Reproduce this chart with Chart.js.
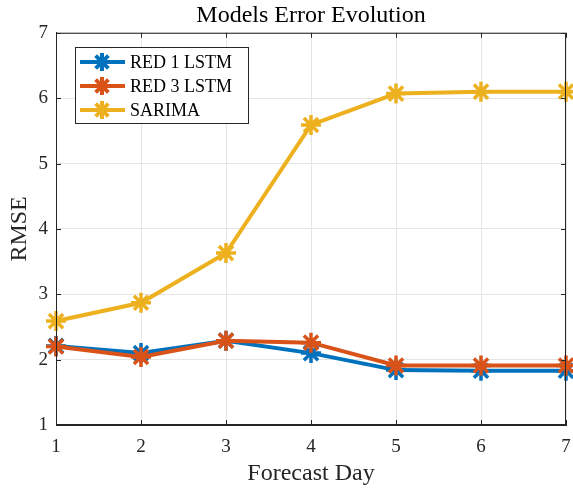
<!DOCTYPE html>
<html>
<head>
<meta charset="utf-8">
<script src="https://cdn.jsdelivr.net/npm/chart.js@4/dist/chart.umd.min.js"></script>
<style>
  html, body { margin: 0; padding: 0; background: #fff; }
  #wrap { width: 573px; height: 491px; }
</style>
</head>
<body>
<div id="wrap"><canvas id="chart" width="573" height="491"></canvas></div>
<script>
// Data
const days = [1, 2, 3, 4, 5, 6, 7];
const red1Lstm = [2.21, 2.10, 2.29, 2.10, 1.84, 1.83, 1.83];
const red3Lstm = [2.20, 2.04, 2.29, 2.26, 1.91, 1.91, 1.91];
const sarima = [2.59, 2.87, 3.63, 5.59, 6.07, 6.10, 6.10];
const yTicks = [1, 2, 3, 4, 5, 6, 7];

const FONT = '"Liberation Serif", "DejaVu Serif", serif';
const AXIS_COLOR = '#262626';

// box, inward ticks and legend drawn the MATLAB way
const matlabFrame = {
  id: 'matlabFrame',
  afterDatasetsDraw(chart) {
    const { ctx, chartArea: a, scales } = chart;
    ctx.save();
    ctx.strokeStyle = AXIS_COLOR;
    ctx.lineWidth = 1;
    ctx.strokeRect(a.left + 0.5, a.top + 0.5, a.right - a.left - 1, a.bottom - a.top - 1);
    // inward ticks
    ctx.beginPath();
    days.forEach((d, i) => {
      const x = Math.round(scales.x.getPixelForValue(i)) + 0.5;
      ctx.moveTo(x, a.bottom); ctx.lineTo(x, a.bottom - 5);
      ctx.moveTo(x, a.top); ctx.lineTo(x, a.top + 5);
    });
    yTicks.forEach(v => {
      const y = Math.round(scales.y.getPixelForValue(v)) + 0.5;
      ctx.moveTo(a.left, y); ctx.lineTo(a.left + 5, y);
      ctx.moveTo(a.right, y); ctx.lineTo(a.right - 5, y);
    });
    ctx.stroke();

    // legend box
    const lx = 75, ly = 47, lw = 173, lh = 76;
    ctx.fillStyle = '#fff';
    ctx.fillRect(lx, ly, lw, lh);
    ctx.strokeRect(lx + 0.5, ly + 0.5, lw, lh);
    chart.data.datasets.forEach((ds, i) => {
      const cy = 62 + i * 24;
      ctx.strokeStyle = ds.borderColor;
      ctx.lineWidth = 4;
      ctx.beginPath();
      ctx.moveTo(80, cy); ctx.lineTo(125, cy);
      ctx.stroke();
      Chart.helpers.drawPoint(ctx, {
        pointStyle: 'star', radius: 9, borderWidth: 3.5
      }, 102, cy);
      ctx.fillStyle = '#000';
      ctx.font = '18px ' + FONT;
      ctx.textBaseline = 'middle';
      ctx.textAlign = 'left';
      ctx.fillText(ds.label, 130, cy + 1);
      ctx.strokeStyle = AXIS_COLOR;
      ctx.lineWidth = 1;
    });
    ctx.restore();
  }
};

function series(label, data, color, order) {
  return {
    label: label,
    data: data,
    borderColor: color,
    backgroundColor: color,
    borderWidth: 4,
    pointStyle: 'star',
    pointRadius: 10,
    pointBorderWidth: 3.5,
    pointBorderColor: color,
    tension: 0,
    fill: false,
    clip: false,
    order: order
  };
}

new Chart(document.getElementById('chart'), {
  type: 'line',
  plugins: [matlabFrame],
  data: {
    labels: days,
    datasets: [
      series('RED 1 LSTM', red1Lstm, '#0072BD', 3),
      series('RED 3 LSTM', red3Lstm, '#D95319', 2),
      series('SARIMA', sarima, '#EDB120', 1)
    ]
  },
  options: {
    responsive: false,
    animation: false,
    layout: { autoPadding: false, padding: { top: 0, right: 7, left: 0, bottom: 0 } },
    scales: {
      x: {
        offset: false,
        grid: { color: '#e5e5e5', drawTicks: false },
        border: { color: AXIS_COLOR },
        ticks: { color: AXIS_COLOR, font: { family: FONT, size: 19 }, padding: 11, maxRotation: 0 },
        title: { display: true, text: 'Forecast Day', color: AXIS_COLOR, font: { family: FONT, size: 24 }, padding: { top: 0, bottom: 3 } },
        afterFit(scale) {
          scale.height = 66;
          scale.paddingLeft = 0;
          scale.paddingRight = 0;
        }
      },
      y: {
        min: 1,
        max: 7,
        grid: { color: '#e5e5e5', drawTicks: false },
        border: { color: AXIS_COLOR },
        ticks: { stepSize: 1, color: AXIS_COLOR, font: { family: FONT, size: 19 }, padding: 8 },
        title: { display: true, text: 'RMSE', color: AXIS_COLOR, font: { family: FONT, size: 24 }, padding: { top: 5, bottom: 0 } },
        afterFit(scale) {
          scale.width = 56;
          scale.paddingTop = 0;
          scale.paddingBottom = 0;
        }
      }
    },
    plugins: {
      legend: { display: false },
      tooltip: { enabled: false },
      title: {
        display: true,
        fullSize: false,
        text: 'Models Error Evolution',
        color: '#000',
        font: { family: FONT, size: 24, weight: 'normal' },
        padding: { top: 1, bottom: 3 }
      }
    }
  }
});
</script>
</body>
</html>
